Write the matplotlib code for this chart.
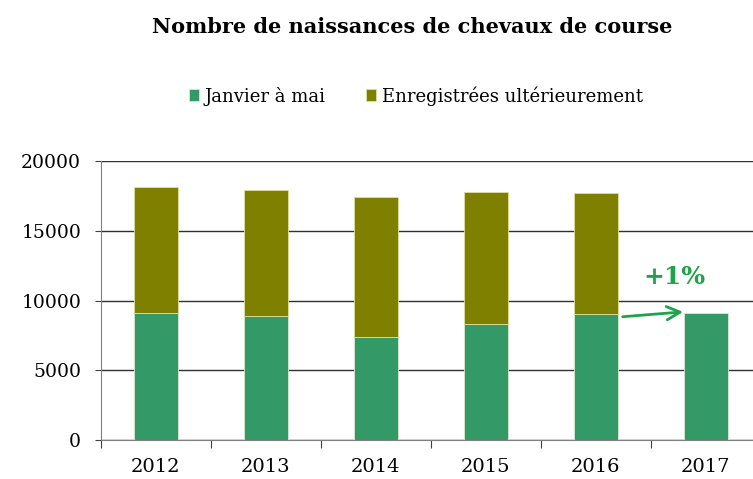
import numpy as np
import matplotlib.pyplot as plt

# data
years = ['2012', '2013', '2014', '2015', '2016', '2017']
janvier_mai = [9070, 8900, 7390, 8280, 9020, 9100]
ulterieur = [9060, 9040, 10010, 9470, 8660, 0]
y_ticks = [0, 5000, 10000, 15000, 20000]

green = '#339966'
olive = '#808000'
arrow_green = '#1fa34a'

plt.rcParams['font.family'] = ['DejaVu Serif']

fig = plt.figure(figsize=(7.53, 4.79), dpi=100)
ax = fig.add_axes([0.1336, 0.0814, 0.8664, 0.5825])

x = np.arange(len(years))
w = 0.4
ax.bar(x, janvier_mai, w, color=green, edgecolor='#d8ead0', linewidth=0.6,
       label='Janvier à mai', zorder=3)
ax.bar(x[:-1], ulterieur[:-1], w, bottom=janvier_mai[:-1], color=olive,
       edgecolor='#e0e0a0', linewidth=0.6, label='Enregistrées ultérieurement', zorder=3)

ax.set_ylim(0, 20000)
ax.set_xlim(-0.5, 5.43)
ax.set_yticks(y_ticks)
ax.set_yticklabels([str(v) for v in y_ticks], fontsize=13.5)
ax.yaxis.grid(True, color='#303030', linewidth=1.0)
ax.set_axisbelow(True)

# x ticks sit between categories, labels centred under bars
ax.set_xticks(np.arange(-0.5, 5.5, 1.0))
ax.set_xticklabels([])
ax.set_xticks(x, minor=True)
ax.set_xticklabels(years, minor=True, fontsize=14)
ax.tick_params(axis='x', which='minor', length=0, pad=13)
ax.tick_params(axis='x', which='major', length=6, color='#404040')
ax.tick_params(axis='y', length=4, color='#404040', pad=10)

for s in ['top', 'right']:
    ax.spines[s].set_visible(False)
ax.spines['left'].set_color('#808080')
ax.spines['bottom'].set_color('#808080')

# +1% annotation
ax.annotate('', xy=(5 - w / 2 + 0.02, janvier_mai[5] + 100),
            xytext=(4 + w / 2 + 0.02, janvier_mai[4] - 200),
            arrowprops=dict(arrowstyle='->', color=arrow_green, lw=2,
                            mutation_scale=24), zorder=4)
ax.text(4.72, 11700, '+1%', color=arrow_green, fontsize=18, fontweight='bold',
        ha='center', va='center')

fig.text(0.548, 0.944, 'Nombre de naissances de chevaux de course',
         ha='center', va='center', fontsize=15, fontweight='bold')
fig.legend(loc='center', bbox_to_anchor=(0.552, 0.80), ncol=2, frameon=False,
           fontsize=13, handlelength=0.6, handleheight=0.6, handletextpad=0.3,
           columnspacing=2.2)

fig.savefig('out.png', dpi=100)
